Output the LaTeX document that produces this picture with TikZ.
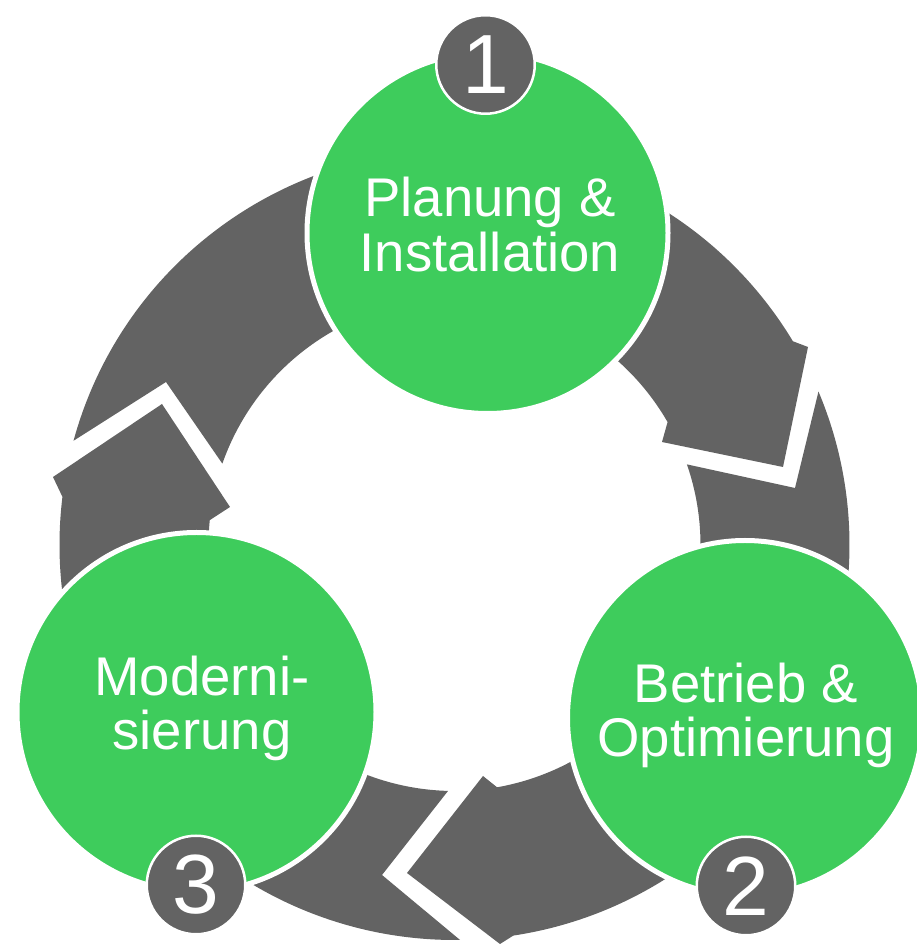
\documentclass[tikz,border=0pt]{standalone}
\usepackage{fontspec}
\setmainfont{Liberation Sans}
\usetikzlibrary{calc}
\definecolor{ringgray}{HTML}{636363}
\definecolor{stepgreen}{HTML}{3ECC5C}
\begin{document}
\begin{tikzpicture}[x=1pt,y=1pt,
  seg/.style={fill=ringgray, draw=none},
  phase/.style={circle, fill=stepgreen, draw=white, line width=5pt, inner sep=0pt},
  badge/.style={circle, fill=ringgray, draw=white, line width=2.5pt, minimum size=98.5pt, inner sep=0pt},
  lbl/.style={text=white, font=\fontsize{54.5}{55}\selectfont, anchor=base, inner sep=0pt},
  num/.style={text=white, font=\fontsize{84}{84}\selectfont, inner sep=0pt}]
\useasboundingbox (0,0) rectangle (916,945);
\coordinate (C) at (454.5,400);

% ring segment 1 (top, towards phase 2)
\fill[seg] (222.4,481.3) -- (166,563) -- ($(C)+(164.7:395)$)
  arc[start angle=164.7, end angle=31.05, radius=395]
  -- (808,598) -- (783,478) -- (662,503) -- ($(C)+(29.98:246)$)
  arc[start angle=29.98, end angle=160.7, radius=246] -- cycle;

% ring segment 2 (right, towards phase 3)
\fill[seg] ($(C)+(19.13:246)$) -- (795,457) -- ($(C)+(22.86:395)$)
  arc[start angle=22.86, end angle=-81.43, radius=395]
  -- (500,1) -- (407,72) -- (483,169) -- ($(C)+(-80.04:246)$)
  arc[start angle=-80.04, end angle=19.13, radius=246] -- cycle;

% ring segment 3 (bottom/left, towards phase 1)
\fill[seg] ($(C)+(-91.5:246)$) -- (382,70) -- ($(C)+(-89.2:395)$)
  arc[start angle=-89.2, end angle=-187, radius=395]
  -- (53,468) -- (162,541) -- (230,438) -- ($(C)+(-185.8:246)$)
  arc[start angle=-185.8, end angle=-91.5, radius=246] -- cycle;

% phase circles
\node[phase, minimum size=361pt] (p1) at (487.5,712) {};
\node[phase, minimum size=355pt] (p2) at (745,227) {};
\node[phase, minimum size=359pt] (p3) at (196.5,233) {};

% badges
\node[badge] (b1) at (485.5,880.5) {};
\node[badge] (b2) at (746,59) {};
\node[badge] (b3) at (196,60) {};
\node[num] (n1) at (b1) {1};
\node[num] (n2) at (b2) {2};
\node[num] (n3) at (b3) {3};

% labels
\node[lbl] (t1a) at (490,728) {Planung \&};
\node[lbl] (t1b) at (490,673) {Installation};
\node[lbl] (t2a) at (746,242) {Betrieb \&};
\node[lbl] (t2b) at (746,188) {Optimierung};
\node[lbl] (t3a) at (202,249) {Moderni-};
\node[lbl] (t3b) at (202,195) {sierung};
\end{tikzpicture}
\end{document}
